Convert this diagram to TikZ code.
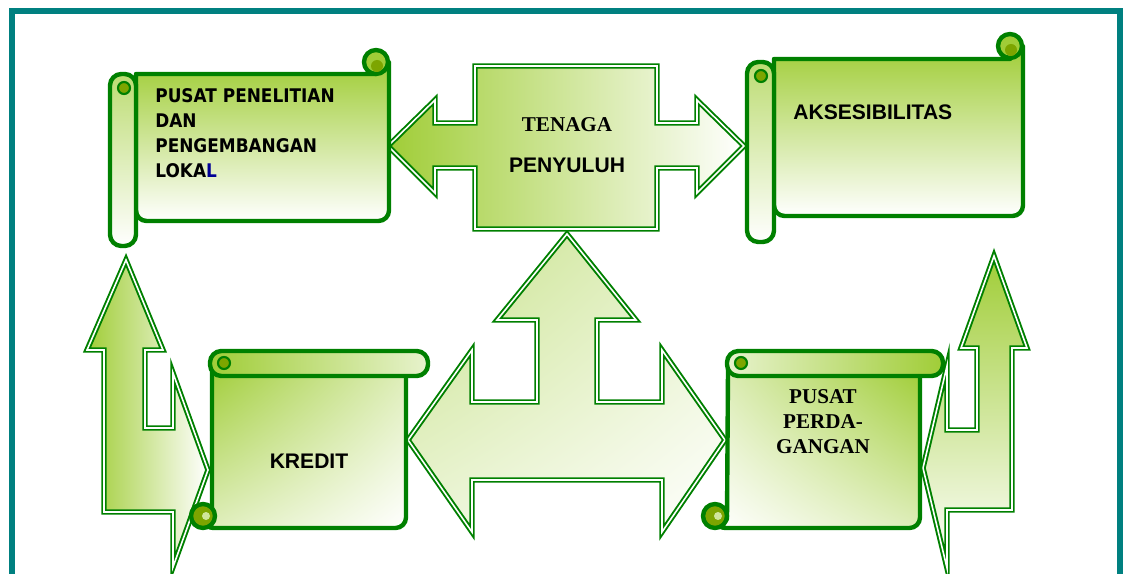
\documentclass[tikz,border=0pt]{standalone}
\usepackage{fontspec}
\setmainfont{Liberation Sans}
\newfontfamily\timesface{Liberation Serif}
\newfontfamily\tahomaface[FakeStretch=0.9]{DejaVu Sans}
\usepackage{xcolor}
\usetikzlibrary{shadings}
\definecolor{ygreen}{RGB}{160,205,55}
\definecolor{lgreen}{RGB}{0,128,0}
\definecolor{curlolive}{RGB}{125,165,0}
\definecolor{frameteal}{RGB}{0,128,128}
\definecolor{navyl}{RGB}{0,0,150}

\begin{document}
\begin{tikzpicture}[
  x=0.02cm, y=-0.02cm,
  scrollline/.style={draw=lgreen, line width=2.5pt, line join=round},
  blockarrow/.style={draw=lgreen, line width=1.1pt, double=white, double distance=0.9pt, line join=miter},
  curlmark/.style={draw=lgreen, line width=1.2pt, fill=curlolive},
  sanslabel/.style={anchor=base, inner sep=0pt, font=\bfseries\fontsize{12}{14}\selectfont},
  seriflabel/.style={anchor=base, inner sep=0pt, font=\timesface\bfseries\fontsize{12}{14}\selectfont},
  widelabel/.style={anchor=base west, inner sep=0pt, font=\tahomaface\bfseries\fontsize{10.7}{12}\selectfont},
]
\useasboundingbox (0,0) rectangle (1126,574);

% Frame
\draw[frameteal, line width=3.3pt] (12,574) -- (12,11) -- (1120,11) -- (1120,574);

% ========== Block arrows ==========
% left: up + right
\draw[blockarrow, left color=ygreen, right color=white]
  (126,260) -- (163,350) -- (145,350) -- (145,428) -- (173,428) -- (173,373)
  -- (208,470) -- (173,567) -- (173,512) -- (104,512) -- (104,350) -- (87,350) -- cycle;

% right: up + left
\draw[blockarrow, top color=ygreen, bottom color=white]
  (994,256) -- (1027,348) -- (1012,348) -- (1012,510) -- (947,510) -- (947,568)
  -- (923,468) -- (947,366) -- (947,430) -- (977,430) -- (977,348) -- (961,348) -- cycle;

% center: left + right + up
\draw[blockarrow, upper left=ygreen!60, upper right=ygreen!25, lower left=ygreen!20, lower right=white]
  (408,440) -- (472,350) -- (472,402) -- (537,402) -- (537,320) -- (497,320)
  -- (567,234) -- (636,320) -- (597,320) -- (597,402) -- (662,402) -- (662,350)
  -- (725,440) -- (662,532) -- (662,480) -- (472,480) -- (472,532) -- cycle;

% top: box with left + right arrows
\draw[blockarrow, left color=ygreen, right color=white]
  (388,146) -- (435,100) -- (435,123) -- (475,123) -- (475,66) -- (657,66)
  -- (657,123) -- (697,123) -- (697,100) -- (744,146) -- (697,193) -- (697,168)
  -- (657,168) -- (657,229) -- (475,229) -- (475,168) -- (435,168) -- (435,193) -- cycle;
\node[seriflabel] (tenaga_top) at (567,132) {TENAGA};
\node[sanslabel] (tenaga_bottom) at (567,173) {PENYULUH};

% ========== Pusat penelitian (top left) ==========
\draw[scrollline, top color=ygreen, bottom color=white]
  (136,74) -- (376,74) -- (389,62) [rounded corners=6pt] -- (389,221) -- (136,221) [sharp corners] -- cycle;
\draw[scrollline, fill=ygreen] (376,62) circle[radius=12];
\fill[curlolive] (377,66) circle[radius=6];
\draw[scrollline, top color=ygreen!70, bottom color=white, rounded corners=6.5pt] (110,74) rectangle (136,246);
\draw[curlmark] (124,88) circle[radius=6];
\node[widelabel] (pusat_l1) at (155,103) {PUSAT PENELITIAN};
\node[widelabel] (pusat_l2) at (155,128) {DAN};
\node[widelabel] (pusat_l3) at (155,153) {PENGEMBANGAN};
\node[widelabel] (pusat_l4) at (155,178) {LOKA\textcolor{navyl}{L}};

% ========== Aksesibilitas (top right) ==========
\draw[scrollline, top color=ygreen, bottom color=white]
  (774,59) -- (1010,59) -- (1023,46) [rounded corners=6pt] -- (1023,216) -- (774,216) [sharp corners] -- cycle;
\draw[scrollline, fill=ygreen] (1010,46) circle[radius=12];
\fill[curlolive] (1011,50) circle[radius=6];
\draw[scrollline, top color=ygreen!70, bottom color=white, rounded corners=6.5pt] (747,62) rectangle (774,242);
\draw[curlmark] (761,76) circle[radius=6];
\node[sanslabel, anchor=base west] (akses) at (793,120) {AKSESIBILITAS};

% ========== Kredit (bottom left) ==========
\draw[scrollline, upper left=ygreen, upper right=ygreen!35, lower left=ygreen!35, lower right=white]
  (212,370) -- (406,370) [rounded corners=6pt] -- (406,528) -- (203,528) [sharp corners] -- (212,519) -- cycle;
\draw[scrollline, left color=ygreen, right color=ygreen!25, rounded corners=6.5pt] (210,351) rectangle (428,376);
\draw[curlmark] (224,363) circle[radius=6];
\draw[scrollline, fill=curlolive] (203,516) circle[radius=12];
\fill[ygreen!50] (206,516) circle[radius=4];
\node[sanslabel] (kredit) at (309,468) {KREDIT};

% ========== Pusat perdagangan (bottom right) ==========
\draw[scrollline, upper right=ygreen, upper left=ygreen!35, lower right=ygreen!35, lower left=white]
  (728,370) -- (920,370) [rounded corners=6pt] -- (920,528) -- (715,528) [sharp corners] -- (727,519) -- cycle;
\draw[scrollline, left color=ygreen!25, right color=ygreen, rounded corners=6.5pt] (727,351) rectangle (943,376);
\draw[curlmark] (741,363) circle[radius=6];
\draw[scrollline, fill=curlolive] (715,516) circle[radius=12];
\fill[ygreen!50] (718,516) circle[radius=4];
\node[seriflabel] (dagang_l1) at (823,403) {PUSAT};
\node[seriflabel] (dagang_l2) at (823,428) {PERDA-};
\node[seriflabel] (dagang_l3) at (823,453) {GANGAN};

\end{tikzpicture}
\end{document}
